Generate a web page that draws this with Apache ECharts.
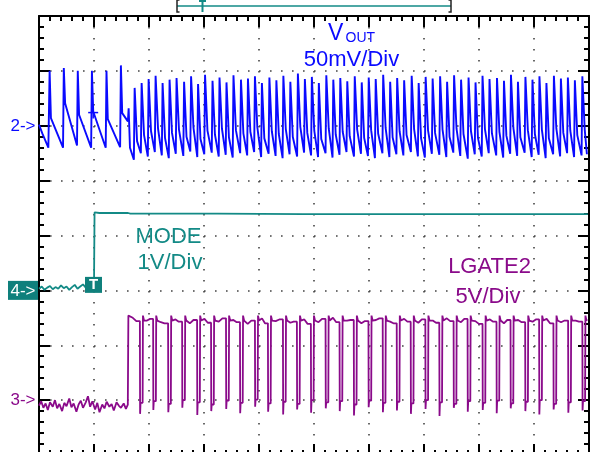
<!DOCTYPE html>
<html>
<head>
<meta charset="utf-8">
<script src="https://cdn.jsdelivr.net/npm/echarts@6.0.0/dist/echarts.min.js"></script>
<style>
html,body{margin:0;padding:0;background:#ffffff;}
#chart{width:596px;height:452px;}
</style>
</head>
<body>
<div id="chart"></div>
<script>
// ---- Screen coordinates: time in divisions (0..10), amplitude in divisions (-4..4) ----

// Channel 2 : VOUT (50 mV/div) — sawtooth ripple, one entry per cycle
const voutStart = [[0, 2.02], [0.06, 1.86], [0.17, 1.60]];
const voutRise = [0.187,0.445,0.699,0.956,1.221,1.483,1.624,
  1.733,1.860,1.987,2.114,2.241,2.368,2.495,2.632,2.759,2.886,
  3.013,3.149,3.276,3.403,3.530,3.666,3.793,3.920,4.047,4.183,
  4.310,4.437,4.564,4.701,4.828,4.955,5.082,5.218,5.345,5.472,
  5.599,5.735,5.862,5.989,6.116,6.252,6.379,6.506,6.633,6.770,
  6.897,7.024,7.151,7.287,7.414,7.541,7.668,7.804,7.931,8.058,
  8.185,8.321,8.448,8.575,8.702,8.838,8.966,9.093,9.220,9.356,
  9.483,9.610,9.737,9.873];
const voutPeak = [3.00,3.05,3.00,3.00,3.00,3.10,2.32,
  2.69,2.78,2.85,2.91,2.78,2.84,2.87,2.80,2.90,2.76,
  2.93,2.82,2.88,2.79,2.92,2.84,2.86,2.90,2.78,2.88,
  2.83,2.91,2.80,2.95,2.85,2.89,2.78,2.92,2.84,2.87,
  2.81,2.90,2.79,2.88,2.85,2.93,2.80,2.87,2.83,2.91,
  2.78,2.89,2.86,2.90,2.80,2.92,2.84,2.88,2.79,2.91,
  2.85,2.87,2.82,2.93,2.80,2.89,2.84,2.90,2.78,2.91,
  2.86,2.88,2.83,2.90];
// level reached after the fast fall following each peak, and how long after the rise (div)
const voutKnee = [2.14,2.41,2.20,2.26,2.12,2.23,1.60,
  1.72,1.83,1.90,1.95,1.78,1.87,1.93,1.80,1.96,1.76,
  1.91,1.84,1.95,1.79,1.92,1.86,1.89,1.97,1.77,1.90,
  1.85,1.94,1.80,1.98,1.87,1.91,1.76,1.95,1.84,1.89,
  1.81,1.93,1.78,1.92,1.86,1.96,1.79,1.90,1.83,1.94,
  1.77,1.91,1.87,1.93,1.80,1.95,1.85,1.90,1.78,1.94,
  1.86,1.89,1.82,1.96,1.79,1.92,1.85,1.93,1.77,1.95,
  1.87,1.91,1.83,1.92];
const voutKneeDt = [0.03,0.03,0.03,0.03,0.03,0.03,0.03, 0.05];
const voutLow = [1.60,1.64,1.60,1.60,1.61,2.08,1.38,
  1.50,1.44,1.52,1.46,1.41,1.49,1.45,1.53,1.43,1.48,
  1.51,1.44,1.47,1.42,1.50,1.46,1.52,1.43,1.49,1.45,
  1.41,1.48,1.44,1.51,1.46,1.43,1.50,1.42,1.47,1.52,
  1.44,1.49,1.45,1.41,1.50,1.43,1.48,1.46,1.52,1.44,
  1.42,1.49,1.47,1.43,1.51,1.45,1.40,1.48,1.44,1.50,
  1.46,1.42,1.49,1.45,1.51,1.43,1.47,1.41,1.48,1.44,
  1.50,1.43,1.46,1.48];
const voutEnd = 9.97;
const voutCursor = [0.985, 2.24];

// Channel 4 : MODE (1 V/div)
const modeLow = [[0,-0.97],[0.05,-0.93],[0.10,-0.99],[0.15,-0.95],[0.20,-0.92],[0.25,-0.98],
  [0.30,-0.94],[0.35,-0.97],[0.40,-0.91],[0.45,-0.96],[0.50,-0.93],[0.55,-0.99],[0.60,-0.94],
  [0.65,-0.90],[0.70,-0.97],[0.75,-0.93],[0.80,-0.89],[0.85,-0.95],[0.90,-0.92],[0.95,-0.96],[1.00,-0.94]];
const modeStep = 1.01;
const modeHigh = [[1.01,0.42],[1.10,0.41],[1.12,0.44],[1.14,0.41],[1.30,0.41],[1.62,0.41],[1.64,0.44],
  [1.66,0.40],[2.15,0.40],[2.17,0.43],[2.19,0.40],[2.26,0.40],[2.28,0.43],[2.30,0.40],[3.20,0.40],
  [3.22,0.37],[3.24,0.40],[4.80,0.39],[4.82,0.42],[4.84,0.39],[5.30,0.39],[5.32,0.36],[5.34,0.39],
  [6.30,0.39],[6.32,0.36],[6.34,0.39],[9.98,0.39]];

// Channel 3 : LGATE2 (5 V/div)
const lgPre = [[0,-3.10],[0.04,-3.02],[0.08,-3.14],[0.12,-3.06],[0.16,-3.18],[0.20,-3.04],[0.25,-3.12],
  [0.29,-3.00],[0.33,-3.15],[0.37,-3.07],[0.42,-3.20],[0.46,-3.05],[0.50,-3.11],[0.55,-2.97],[0.59,-3.13],
  [0.63,-3.06],[0.68,-3.21],[0.72,-3.08],[0.76,-3.01],[0.80,-3.14],[0.85,-3.04],[0.89,-2.93],[0.93,-3.12],
  [0.97,-3.02],[1.02,-3.17],[1.06,-3.05],[1.10,-3.22],[1.15,-3.08],[1.19,-3.15],[1.23,-3.03],[1.28,-3.12],
  [1.32,-3.07],[1.36,-3.19],[1.41,-3.04],[1.45,-3.10],[1.49,-3.14],[1.54,-3.06],[1.58,-3.16],[1.615,-3.08]];
const lgOn = 1.621;
const lgPulse = [1.864,2.105,2.377,2.632,2.904,3.158,3.430,3.684,3.956,4.192,
  4.465,4.719,4.973,5.240,5.494,5.753,6.020,6.279,6.534,6.788,
  7.054,7.308,7.568,7.822,8.094,8.348,8.603,8.869,9.123,9.383,9.650,9.909];
const lgUnder = [-3.25,-3.18,-3.22,-3.14,-3.27,-3.20,-3.16,-3.24,-3.12,-3.21,
  -3.26,-3.17,-3.23,-3.15,-3.20,-3.28,-3.13,-3.22,-3.19,-3.25,
  -3.16,-3.29,-3.14,-3.21,-3.18,-3.24,-3.15,-3.20,-3.26,-3.17,-3.23,-3.19];
const lgLow = [-3.05,-3.02,-3.07,-3.00,-3.04,-3.08,-3.01,-3.05,-2.99,-3.06,
  -3.03,-3.07,-3.00,-3.04,-3.02,-3.08,-3.01,-3.05,-3.03,-3.06,
  -3.00,-3.04,-3.07,-3.02,-3.05,-3.01,-3.06,-3.03,-3.00,-3.07,-3.04,-3.02];
const lgHiA = [-1.50,-1.55,-1.58,-1.53,-1.60,-1.52,-1.57,-1.54,-1.61,-1.51,
  -1.56,-1.59,-1.53,-1.58,-1.50,-1.55,-1.60,-1.54,-1.57,-1.52,
  -1.59,-1.55,-1.51,-1.58,-1.56,-1.53,-1.60,-1.54,-1.57,-1.52,-1.58,-1.55,-1.53];
const lgHiB = [-1.56,-1.52,-1.60,-1.57,-1.54,-1.59,-1.51,-1.58,-1.55,-1.60,
  -1.53,-1.57,-1.61,-1.52,-1.58,-1.54,-1.56,-1.51,-1.60,-1.57,
  -1.53,-1.59,-1.56,-1.52,-1.61,-1.57,-1.54,-1.58,-1.53,-1.60,-1.55,-1.57,-1.54];
const LG_OVER = -1.46, LG_SETTLE = -1.55, lgEnd = 9.98;

// Channel ground markers and trigger
const chLabels = ['2->', '4->', '3->'];
const chLevels = [2, -1, -3];
const trigTime = 1.0;

const BLUE = '#0a0aff', TEAL = '#138a86', PURPLE = '#8a0a8a';

// ---- build polylines from the per-cycle readings ----
function buildVout() {
  const pts = voutStart.slice();
  for (let i = 0; i < voutRise.length; i++) {
    const t = voutRise[i];
    const next = i + 1 < voutRise.length ? voutRise[i + 1] : voutEnd;
    const prev = pts[pts.length - 1][1];
    const kdt = voutKneeDt[Math.min(i, voutKneeDt.length - 1)];
    pts.push([t, prev]);
    pts.push([t + 0.006, voutPeak[i]]);
    pts.push([t + kdt, voutKnee[i]]);
    pts.push([next - 0.008, voutLow[i]]);
  }
  return pts;
}
function buildMode() {
  const pts = modeLow.slice();
  pts.push([modeStep, modeLow[modeLow.length - 1][1]]);
  return pts.concat(modeHigh);
}
function buildLgate() {
  const pts = lgPre.slice();
  pts.push([lgOn, lgPre[lgPre.length - 1][1]]);
  pts.push([lgOn + 0.004, LG_OVER]);
  let s = lgOn + 0.02;
  for (let i = 0; i <= lgPulse.length; i++) {
    const e = i < lgPulse.length ? lgPulse[i] - 0.03 : lgEnd;
    pts.push([s + (e - s) / 3, lgHiA[i]]);
    pts.push([s + 2 * (e - s) / 3, lgHiB[i]]);
    pts.push([e, lgHiB[i]]);
    if (i < lgPulse.length) {
      const c = lgPulse[i];
      pts.push([c - 0.026, lgUnder[i]]);
      pts.push([c - 0.018, lgLow[i]]);
      pts.push([c + 0.02, lgLow[i]]);
      pts.push([c + 0.026, LG_OVER]);
      s = c + 0.045;
      pts.push([s, LG_SETTLE]);
    }
  }
  return pts;
}

const chart = echarts.init(document.getElementById('chart'), null, {renderer: 'canvas'});

function axisBase(extra) {
  return Object.assign({
    type: 'value',
    axisLine: {show: true, onZero: false, lineStyle: {color: '#000', width: 2}},
    axisTick: {show: true, inside: true, length: 11, lineStyle: {color: '#000', width: 2}},
    minorTick: {show: true, splitNumber: 5, length: 5, lineStyle: {color: '#000', width: 2}},
    axisLabel: {show: false},
    splitLine: {show: false},
    silent: true
  }, extra);
}
const dotLine = {show: true, lineStyle: {color: '#444', width: 1.6, type: [1.6, 9.4]}};

const lineSeries = (data, color, w) => ({
  type: 'line', data: data, showSymbol: false, symbol: 'none', silent: true,
  lineStyle: {color: color, width: w}, animation: false, z: 3
});

chart.setOption({
  animation: false,
  grid: {left: 39, top: 16, width: 550, height: 439, containLabel: false, outerBoundsMode: 'none'},
  xAxis: [
    axisBase({min: 0, max: 10, interval: 1, position: 'bottom', splitLine: dotLine}),
    axisBase({min: 0, max: 10, interval: 1, position: 'top'})
  ],
  yAxis: [
    axisBase({min: -4, max: 4, interval: 1, position: 'left', splitLine: dotLine}),
    axisBase({min: -4, max: 4, interval: 1, position: 'right'})
  ],
  series: [
    lineSeries(buildMode(), TEAL, 1.8),
    lineSeries(buildLgate(), PURPLE, 1.8),
    lineSeries(buildVout(), BLUE, 1.9)
  ]
});

const px = t => chart.convertToPixel({gridIndex: 0}, [t, 0])[0];
const py = v => chart.convertToPixel({gridIndex: 0}, [0, v])[1];
const FONT = '"Liberation Sans", Arial, sans-serif';
const NARROW = '"Liberation Sans Narrow", "Arial Narrow", "Liberation Sans", sans-serif';

function txt(text, x, y, size, color, align, weight, family) {
  return {type: 'text', z: 20, silent: true,
    style: {text: text, x: x, y: y, fill: color, fontSize: size, fontFamily: family || FONT,
      fontWeight: weight || 'normal', textAlign: align || 'center', align: align || 'center',
      textVerticalAlign: 'middle', verticalAlign: 'middle'}};
}

const g = [];
// top memory/trigger position indicator
g.push({type: 'line', z: 20, silent: true, shape: {x1: 177, y1: 6, x2: 451, y2: 6}, style: {stroke: TEAL, lineWidth: 1.5}});
g.push({type: 'polyline', z: 21, silent: true, shape: {points: [[179.5, 0], [177, 0], [177, 12], [179.5, 12]]}, style: {stroke: '#222', lineWidth: 1.5, fill: null}});
g.push({type: 'polyline', z: 21, silent: true, shape: {points: [[448.5, 0], [451, 0], [451, 12], [448.5, 12]]}, style: {stroke: '#222', lineWidth: 1.5, fill: null}});
g.push({type: 'line', z: 21, silent: true, shape: {x1: 202.5, y1: 0, x2: 202.5, y2: 12}, style: {stroke: TEAL, lineWidth: 2}});
g.push({type: 'line', z: 21, silent: true, shape: {x1: 199, y1: 1, x2: 206, y2: 1}, style: {stroke: TEAL, lineWidth: 2}});

// channel ground markers
const y2 = py(chLevels[0]), y4 = py(chLevels[1]), y3 = py(chLevels[2]);
g.push(txt(chLabels[0], 23, y2 + 0.5, 17, BLUE, 'center', 'normal', NARROW));
g.push({type: 'rect', z: 20, silent: true, shape: {x: 8, y: y4 - 9.5, width: 30, height: 19}, style: {fill: '#0f807c'}});
g.push(txt(chLabels[1], 23, y4 + 0.5, 17, '#ffffff', 'center', 'normal', NARROW));
g.push(txt(chLabels[2], 23, y3 + 0.5, 17, PURPLE, 'center', 'normal', NARROW));

// trigger marker box on channel 4
const xt = px(trigTime);
g.push({type: 'rect', z: 20, silent: true, shape: {x: xt - 9, y: y4 - 13.5, width: 17, height: 16}, style: {fill: '#0f807c'}});
g.push(txt('T', xt - 0.5, y4 - 5.5, 15, '#ffffff', 'center', 'bold'));

// small cursor cross on VOUT
const cx = px(voutCursor[0]), cy = py(voutCursor[1]);
g.push({type: 'line', z: 21, silent: true, shape: {x1: cx - 5, y1: cy, x2: cx + 5, y2: cy}, style: {stroke: BLUE, lineWidth: 1.5}});
g.push({type: 'line', z: 21, silent: true, shape: {x1: cx, y1: cy - 6, x2: cx, y2: cy + 6}, style: {stroke: BLUE, lineWidth: 1.5}});

// channel captions
g.push(txt('V', 328, 33.5, 23, BLUE, 'left'));
g.push(txt('OUT', 345.5, 38, 14, BLUE, 'left'));
g.push(txt('50mV/Div', 351.5, 60, 22, BLUE, 'center'));
g.push(txt('MODE', 168.5, 236.5, 22, TEAL, 'center'));
g.push(txt('1V/Div', 170, 263, 22, TEAL, 'center'));
g.push(txt('LGATE2', 489.5, 267, 22, PURPLE, 'center'));
g.push(txt('5V/Div', 488, 297, 22, PURPLE, 'center'));

chart.setOption({graphic: g});
</script>
</body>
</html>
